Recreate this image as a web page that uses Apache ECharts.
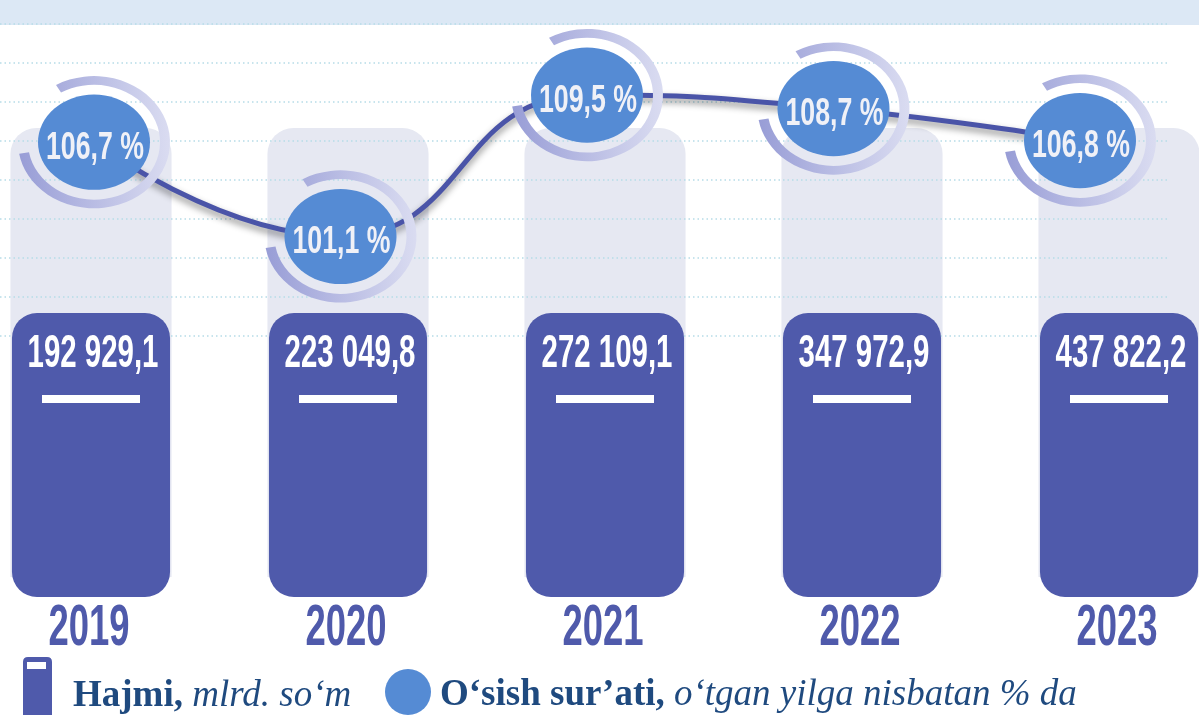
<!DOCTYPE html>
<html>
<head>
<meta charset="utf-8">
<script src="https://cdn.jsdelivr.net/npm/echarts@6/dist/echarts.min.js"></script>
<style>
html, body { margin: 0; padding: 0; background: #fff; }
#chart { width: 1199px; height: 715px; }
</style>
</head>
<body>
<div id="chart"></div>
<script>
// data
var years = ['2019', '2020', '2021', '2022', '2023'];
var volume = [192929.1, 223049.8, 272109.1, 347972.9, 437822.2]; // Hajmi, mlrd. so'm
var growth = [106.7, 101.1, 109.5, 108.7, 106.8];                // o'tgan yilga nisbatan % da

// no condensed face installed, so an ordinary bold face gets squeezed with scaleX
var face = "'Liberation Sans', Arial, sans-serif";
var serif = "'Liberation Serif', 'DejaVu Serif', serif";
var navy = '#1f4a7f';
var barColor = '#4f5aab';
var dotColor = '#558bd4';

function fmt(v) {
  var p = v.toFixed(1).split('.');
  return p[0].replace(/\B(?=(\d{3})+(?!\d))/g, ' ') + ',' + p[1];
}

function squeezed(x, y, text, size, sx, color) {
  return {
    type: 'text', x: x, y: y, scaleX: sx,
    style: {
      text: text, fill: color, font: 'bold ' + size + 'px ' + face,
      textAlign: 'center', textVerticalAlign: 'middle', align: 'center', verticalAlign: 'middle'
    }
  };
}

var ringFill = new echarts.graphic.LinearGradient(0, 0, 1, 0, [
  { offset: 0, color: '#989dd6' },
  { offset: 1, color: '#dadcf1' }
]);

var barIcon = 'path://M5,0 H24 Q29,0 29,5 V58 H0 V5 Q0,0 5,0 Z M4,5 V12 H23 V5 Z';

var chart = echarts.init(document.getElementById('chart'));
chart.setOption({
  backgroundColor: '#ffffff',
  animation: false,
  graphic: [{
    type: 'rect', left: 0, top: 0, z: 0,
    shape: { width: 1199, height: 25 },
    style: { fill: '#dce8f5' }
  }],
  grid: [
    { left: 91, right: 80, top: 128, bottom: 118 },     // bars
    { left: 94, right: 119, top: 53, height: 202 },     // growth line
    { left: 0, right: 32, top: 24, height: 312 }        // dotted guide lines
  ],
  xAxis: [{
    type: 'category', gridIndex: 0, data: years, boundaryGap: false,
    axisLine: { show: false }, axisTick: { show: false }, axisLabel: { show: false }
  }, {
    type: 'category', gridIndex: 1, data: years, boundaryGap: false, show: false
  }, {
    type: 'value', gridIndex: 2, show: false
  }],
  yAxis: [{
    type: 'value', gridIndex: 0, min: 0, max: 1, show: false
  }, {
    type: 'value', gridIndex: 1, min: 100, max: 112, show: false
  }, {
    type: 'value', gridIndex: 2, min: 0, max: 8, interval: 1, z: 2,
    axisLine: { show: false }, axisTick: { show: false }, axisLabel: { show: false },
    splitLine: { show: true, lineStyle: { color: '#b6dce8', width: 1.5, type: [1.5, 3] } }
  }],
  legend: [{
    data: [{ name: 'Hajmi', icon: barIcon, itemStyle: { color: barColor } }],
    left: 23, top: 657, padding: 0, itemWidth: 29, itemHeight: 58, selectedMode: false,
    formatter: function () { return '{b|Hajmi,}{i| mlrd. so‘m}'; },
    textStyle: {
      padding: [20, 0, 0, 16],
      rich: {
        b: { fontFamily: serif, fontWeight: 'bold', fontSize: 37, color: navy },
        i: { fontFamily: serif, fontStyle: 'italic', fontSize: 37, color: navy }
      }
    }
  }, {
    data: [{ name: 'O‘sish sur’ati', icon: 'circle', itemStyle: { color: dotColor } }],
    left: 385, top: 669, padding: 0, itemWidth: 46, itemHeight: 46, selectedMode: false,
    formatter: function () { return '{b|O‘sish sur’ati,}{i| o‘tgan yilga nisbatan % da}'; },
    textStyle: {
      padding: [6, 0, 0, 4],
      rich: {
        b: { fontFamily: serif, fontWeight: 'bold', fontSize: 37, color: navy },
        i: { fontFamily: serif, fontStyle: 'italic', fontSize: 37, color: navy }
      }
    }
  }],
  series: [{
    // pale backing columns
    type: 'custom', name: 'bg', xAxisIndex: 0, yAxisIndex: 0, z: 1, silent: true,
    data: volume.map(function (v, i) { return [i, v]; }),
    renderItem: function (params, api) {
      var bottom = api.coord([api.value(0), 0]);
      var top = api.coord([api.value(0), 1]);
      var w = api.size([1, 0])[0] * 0.627;
      return {
        type: 'rect',
        shape: { x: bottom[0] - w / 2, y: top[1], width: w, height: bottom[1] - top[1] - 20, r: [26, 26, 0, 0] },
        style: { fill: '#e6e8f2' }
      };
    }
  }, {
    type: 'custom', name: 'Hajmi', xAxisIndex: 0, yAxisIndex: 0, z: 3,
    itemStyle: { color: barColor },
    data: volume.map(function (v, i) { return [i, v]; }),
    renderItem: function (params, api) {
      var bottom = api.coord([api.value(0), 0]);
      var w = api.size([1, 0])[0] * 0.615;
      var cx = bottom[0];
      var top = bottom[1] - 284;
      return {
        type: 'group',
        children: [{
          type: 'rect',
          shape: { x: cx - w / 2, y: top, width: w, height: 284, r: 25 },
          style: { fill: barColor }
        },
        squeezed(cx + 2, top + 41, fmt(api.value(1)), 46, 0.64, '#ffffff'),
        {
          type: 'rect',
          shape: { x: cx - 49, y: top + 82, width: 98, height: 8 },
          style: { fill: '#ffffff' }
        },
        squeezed(cx - 2, bottom[1] + 32, years[api.value(0)], 57, 0.64, barColor)]
      };
    }
  }, {
    type: 'line', name: 'O‘sish sur’ati', xAxisIndex: 1, yAxisIndex: 1, z: 4,
    data: growth, smooth: true, symbol: 'none',
    lineStyle: {
      color: '#4a54a8', width: 5,
      shadowColor: 'rgba(0,0,0,0.45)', shadowBlur: 7, shadowOffsetY: 4
    }
  }, {
    type: 'custom', name: 'O‘sish sur’ati', xAxisIndex: 1, yAxisIndex: 1, z: 5,
    itemStyle: { color: dotColor },
    data: growth.map(function (v, i) { return [i, v]; }),
    renderItem: function (params, api) {
      var p = api.coord([api.value(0), api.value(1)]);
      return {
        type: 'group',
        children: [{
          type: 'sector', x: p[0], y: p[1], scaleY: 0.87,
          shape: { cx: 0, cy: 0, r0: 66, r: 76, startAngle: -2.094, endAngle: 2.967, clockwise: true },
          style: { fill: ringFill }
        }, {
          type: 'circle', x: p[0], y: p[1], scaleY: 0.85,
          shape: { cx: 0, cy: 0, r: 56 },
          style: { fill: dotColor }
        },
        squeezed(p[0] + 1, p[1] + 6, api.value(1).toFixed(1).replace('.', ',') + ' %', 39, 0.685, '#f0f1f7')]
      };
    }
  }]
});
</script>
</body>
</html>
